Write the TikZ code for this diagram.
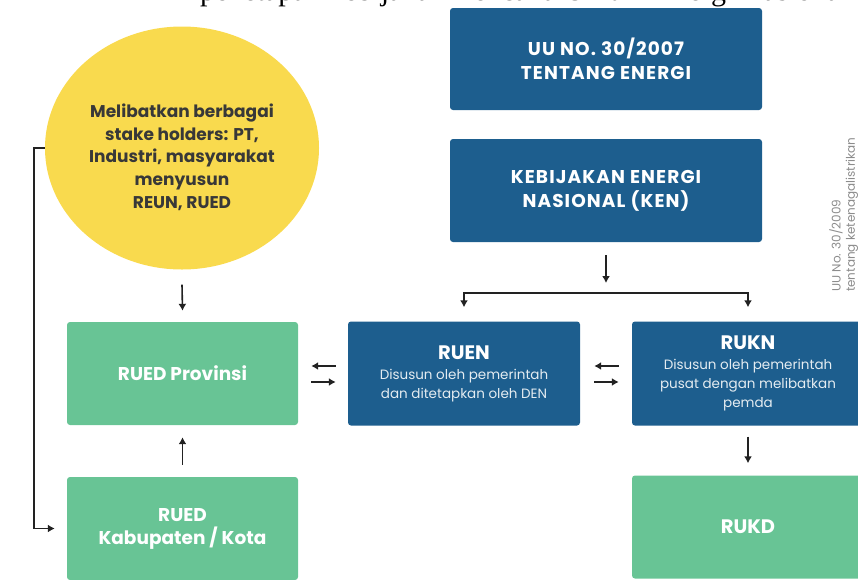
\documentclass[tikz,border=0pt]{standalone}
\usepackage{fontspec}
\setmainfont{Poppins}
\newfontfamily\topline{Liberation Serif}
\usetikzlibrary{shapes.geometric, arrows.meta, positioning}
\usepackage{xcolor}
\definecolor{energyblue}{HTML}{1D5E8E}
\definecolor{plangreen}{HTML}{68C495}
\definecolor{stakeyellow}{HTML}{F9DA4E}
\definecolor{darkline}{HTML}{222222}
\definecolor{sidegray}{HTML}{8C8C8C}
\newcommand{\subline}[1]{{\mdseries\fontsize{13.5}{17.5}\selectfont\color{white!88!energyblue}#1}}

\begin{document}
\begin{tikzpicture}[x=1pt, y=-1pt,
    bluebox/.style={fill=energyblue, rounded corners=3pt, text=white, align=center,
                    font=\bfseries\fontsize{19.5}{23}\selectfont},
    lawbox/.style={bluebox, minimum width=312pt, minimum height=102pt,
                   font=\bfseries\fontsize{18.5}{24}\selectfont\addfontfeatures{LetterSpace=6}},
    greenbox/.style={fill=plangreen, rounded corners=3pt, text=white, align=center,
                     font=\bfseries\fontsize{18.5}{23}\selectfont,
                     minimum width=231pt, minimum height=103pt},
    planbox/.style={bluebox, minimum width=232pt, minimum height=104pt},
    arr/.style={draw=darkline, line width=1.6pt, -{Latex[length=7pt, width=8pt]}}]

    % page size and clip at the border
    \useasboundingbox (0,0) rectangle (858,579);
    \clip (0,0) rectangle (858,579);

    % cut off line on top
    \node[anchor=base west, inner sep=0pt, font=\topline\fontsize{30}{30}\selectfont]
        (topline) at (169,0.3) {m penetapan kebijakan Rencana Umum Energi Nasional};

    % stake holders
    \node[ellipse, fill=stakeyellow, minimum width=274pt, minimum height=243pt] (stake) at (182,148) {};
    \node[align=center, text=black!78, font=\bfseries\fontsize{17}{22.7}\selectfont]
        (stakelabel) at ([yshift=-9pt]stake.center)
        {Melibatkan berbagai\\stake holders: PT,\\Industri, masyarakat\\menyusun\\REUN, RUED};

    % national level
    \node[lawbox] (uu) at (606,59) {UU NO. 30/2007\\TENTANG ENERGI};
    \node[lawbox, minimum height=103pt] (ken) at (606,190.5) {KEBIJAKAN ENERGI\\NASIONAL (KEN)};

    \node[planbox] (ruen) at (464,373.5)
        {RUEN\\[-3pt]\subline{Disusun oleh pemerintah}\\[-4pt]\subline{dan ditetapkan oleh DEN}};
    \node[planbox] (rukn) at (748,373.5)
        {RUKN\\[-3pt]\subline{Disusun oleh pemerintah}\\[-4pt]\subline{pusat dengan melibatkan}\\[-4pt]\subline{pemda}};

    % regional level
    \node[greenbox] (prov) at (182.5,373.5) {RUED Provinsi};
    \node[greenbox] (kab) at (182.5,528.5) {RUED\\Kabupaten / Kota};
    \node[greenbox, minimum width=232pt, font=\bfseries\fontsize{19.5}{23}\selectfont] (rukd) at (748,527) {RUKD};

    % side note
    \node[rotate=90, anchor=west, inner sep=0pt, text=sidegray, font=\fontsize{12}{12}\selectfont]
        (uu2009) at (836,292) {UU No. 30/2009};
    \node[rotate=90, anchor=west, inner sep=0pt, text=sidegray, font=\fontsize{12}{12}\selectfont]
        (tentang) at (852,292) {tentang ketenagalistrikan};

    % arrows
    \coordinate (split) at (606,293);
    \draw[arr] ([yshift=-13pt]ken.south) -- ([yshift=10pt]split);
    \draw[arr] (split) -| ([yshift=14pt]ruen.north);
    \draw[arr] (split) -| ([yshift=14pt]rukn.north);
    \draw[arr] ([yshift=-11pt]rukn.south) -- ([yshift=12pt]rukd.north);

    \draw[arr] ([yshift=-15pt]stake.south) -- ([yshift=11pt]prov.north);
    \draw[arr] ([yshift=12pt]kab.north) -- ([yshift=-12pt]prov.south);
    \draw[arr] (stake.west) -- ++(-11,0) |- ([xshift=-12pt]kab.west);

    \draw[arr] ([xshift=-12pt, yshift=7.5pt]ruen.west) -- ([xshift=13pt, yshift=7.5pt]prov.east);
    \draw[arr] ([xshift=13pt, yshift=-8.5pt]prov.east) -- ([xshift=-12pt, yshift=-8.5pt]ruen.west);
    \draw[arr] ([xshift=-13pt, yshift=7.5pt]rukn.west) -- ([xshift=14pt, yshift=7.5pt]ruen.east);
    \draw[arr] ([xshift=14pt, yshift=-8.5pt]ruen.east) -- ([xshift=-13pt, yshift=-8.5pt]rukn.west);

\end{tikzpicture}
\end{document}
